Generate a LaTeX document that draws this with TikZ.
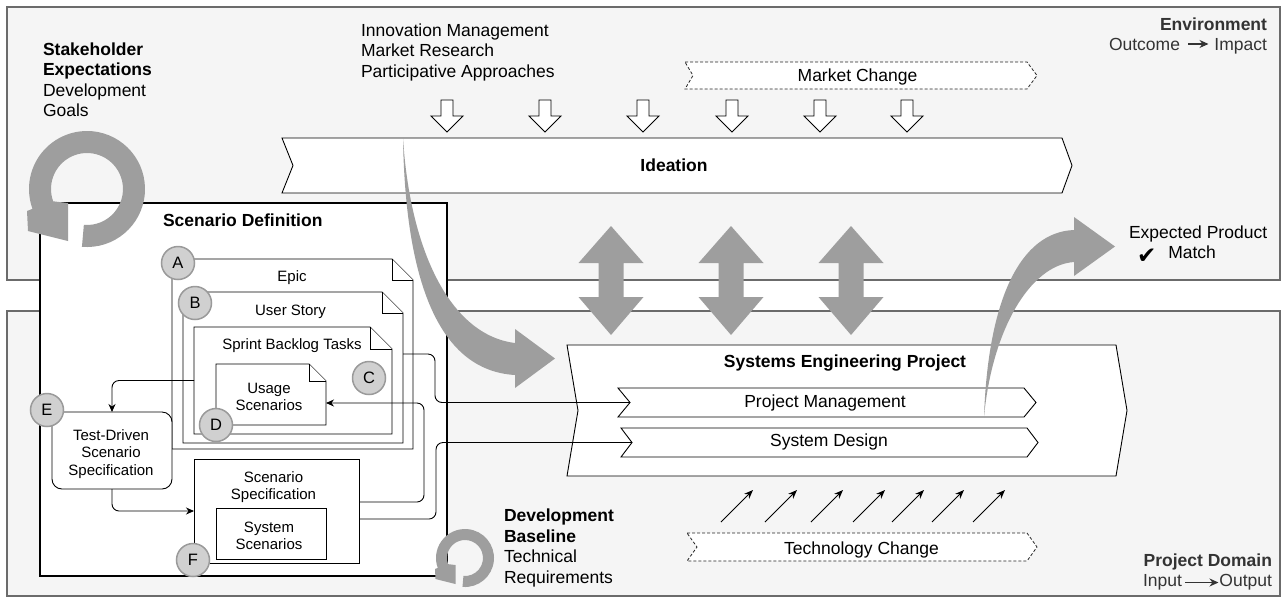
\documentclass[tikz,border=0pt]{standalone}
\usepackage{fontspec}
\setmainfont{Liberation Sans}
\newfontfamily\symbolfont{DejaVu Sans}
\usetikzlibrary{arrows.meta,calc}
\definecolor{panelfill}{HTML}{F5F5F5}
\definecolor{panelline}{HTML}{6B6B6B}
\definecolor{biggray}{HTML}{9E9E9E}
\definecolor{circfill}{HTML}{D0D0D0}
\definecolor{circline}{HTML}{9A9A9A}
\definecolor{labelgray}{HTML}{333333}
\newcommand\docoutline[2]{%
  \filldraw[box] (#1.north west) -- ($(#1.north east)+(-#2,0)$) -- ($(#1.north east)+(0,#2)$) -- (#1.south east) -- (#1.south west) -- cycle;
  \draw[box] ($(#1.north east)+(-#2,0)$) -- ++(0,#2) -- ++(#2,0);}
\newcommand\cyclearrow[3]{%
  \begin{scope}[shift={(#1,#2)},scale=#3]
  \fill[biggray] (95:58) arc[start angle=95, end angle=-200, radius=58] -- (-60,22) -- (-59,42) -- (-19,52) -- (-19,14) -- (-200:36) arc[start angle=-200, end angle=95, radius=36] -- cycle;
  \end{scope}}
\begin{document}
\begin{tikzpicture}[x=1pt, y=-1pt,
  every node/.style={inner sep=0pt, outer sep=0pt},
  txt/.style={font=\fontsize{17.5}{20.6}\selectfont},
  txtb/.style={font=\fontsize{17.5}{20.6}\selectfont\bfseries},
  txts/.style={font=\fontsize{15}{17.2}\selectfont},
  panel/.style={draw=panelline, fill=panelfill, line width=2.5pt},
  box/.style={draw=black, line width=0.9pt, fill=white},
  dashchev/.style={draw=black!85, line width=0.8pt, dash pattern=on 3pt off 2pt, fill=white},
  holder/.style={draw=none, fill=none},
  circ/.style={circle, minimum size=33pt, fill=circfill, draw=circline, line width=1.5pt, font=\fontsize{16.5}{18}\selectfont},
  conn/.style={draw=black, line width=0.9pt, rounded corners=7pt},
  connarrow/.style={-{Stealth[length=8pt, width=7pt]}},
  smallarrow/.style={line width=1.1pt, -{Stealth[length=9pt, width=8pt]}}
]
\useasboundingbox (0,0) rectangle (1282,598);
\fill[white] (0,0) rectangle (1282,598);
% panels
\node[panel, minimum width=1273pt, minimum height=273pt] (env) at (643.5,143.5) {};
\node[panel, minimum width=1273pt, minimum height=285pt] (dom) at (643.5,453.5) {};
% panel texts (multi-line nodes: base = baseline of last line)
\node[txt, anchor=base west, align=left] (stake) at (43,116.8) {\textbf{Stakeholder}\\\textbf{Expectations}\\Development\\Goals};
\node[txt, anchor=base west, align=left] (innov) at (361,77.2) {Innovation Management\\Market Research\\Participative Approaches};
\node[txtb, anchor=base east, text=labelgray] (envname) at (1267,30) {Environment};
\node[txt, anchor=base east, text=labelgray] (impact) at (1267,50) {Impact};
\node[txt, anchor=base east, text=labelgray] (outcome) at (1180,50) {Outcome};
\draw[smallarrow, labelgray] ($(outcome.east)+(8,0)$) -- ($(outcome.east -| impact.west)+(-6,0)$);
\node[txtb, anchor=base east, text=labelgray] (domname) at (1272,566.7) {Project Domain};
\node[txt, anchor=base east, text=labelgray] (output) at (1272,586.7) {Output};
\node[txt, anchor=base east, text=labelgray] (input) at (1182,586.7) {Input};
\draw[smallarrow, labelgray] ($(input.east)+(3,0)$) -- ($(input.east -| output.west)+(-1,0)$);
\node[txt, anchor=base west, align=left] (devbase) at (504,583.5) {\textbf{Development}\\\textbf{Baseline}\\Technical\\Requirements};
% market change
\draw[dashchev] (685,62) -- (1027,62) -- (1037,75.5) -- (1027,89) -- (685,89) -- (693,75.5) -- cycle;
\node[txt, anchor=base] (mchange) at (857.5,81) {Market Change};
\foreach \c in {447,545,643,732,820,907}
  \draw[box] ({\c-6},100) -- ({\c+6},100) -- ({\c+6},116) -- ({\c+16},116) -- (\c,132) -- ({\c-16},116) -- ({\c-6},116) -- cycle;
% ideation
\draw[box] (282,138) -- (1062,138) -- (1072,165.5) -- (1062,193) -- (282,193) -- (293,165.5) -- cycle;
\node[txtb, anchor=base] (ideation) at (674,171.7) {Ideation};
% scenario definition
\node[draw=black, line width=2pt, fill=white, minimum width=407pt, minimum height=373pt] (scendef) at (243.5,389.5) {};
\node[txtb, anchor=base west] (scendeflabel) at (163,226.7) {Scenario Definition};
\node[holder, minimum width=241pt, minimum height=190pt] (epic) at (292.5,354) {};
\docoutline{epic}{21}
\node[txts, anchor=base] (epiclabel) at (292,281.7) {Epic};
\node[holder, minimum width=220pt, minimum height=151pt] (ustory) at (293,367.5) {};
\docoutline{ustory}{21}
\node[txts, anchor=base] (ustorylabel) at (290.5,315) {User Story};
\node[holder, minimum width=198pt, minimum height=107pt] (sbt) at (293,380.5) {};
\docoutline{sbt}{22}
\node[txts, anchor=base] (sbtlabel) at (292,349.3) {Sprint Backlog Tasks};
\node[holder, minimum width=110pt, minimum height=61pt] (usage) at (271,394.5) {};
\docoutline{usage}{17}
\node[txts, anchor=base, align=center] (usagelabel) at (269,410.3) {Usage\\Scenarios};
\node[box, rounded corners=10pt, minimum width=120pt, minimum height=77pt] (tdd) at (112,450.5) {};
\node[txts, anchor=base, align=center] (tddlabel) at (111,475) {Test-Driven\\Scenario\\Specification};
\node[box, minimum width=165pt, minimum height=104pt] (ss) at (276.5,511) {};
\node[txts, anchor=base, align=center] (sslabel) at (273.5,499.5) {Scenario\\Specification};
\node[box, minimum width=110pt, minimum height=51pt] (sysscen) at (271,533.5) {};
\node[txts, anchor=base, align=center] (sysscenlabel) at (269,549.4) {System\\Scenarios};
% systems engineering project
\draw[box] (567,345) -- (1116,345) -- (1127,410.5) -- (1116,476) -- (567,476) -- (578,410.5) -- cycle;
\node[txtb, anchor=base] (sep) at (845,367) {Systems Engineering Project};
\draw[box] (618,388) -- (1024,388) -- (1036,402.5) -- (1024,417) -- (618,417) -- (630,402.5) -- cycle;
\coordinate (pmin) at (630,402.5);
\node[txt, anchor=base] (pm) at (825,407.3) {Project Management};
\draw[box] (621,428) -- (1027,428) -- (1038,442.5) -- (1027,457) -- (621,457) -- (632,442.5) -- cycle;
\coordinate (sdin) at (632,442.5);
\node[txt, anchor=base] (sd) at (829,446.7) {System Design};
% connectors
\draw[conn, connarrow] (sbt.west) -| (tdd.north);
\draw[conn, connarrow] (tdd.south) |- (ss.west);
\draw[conn, connarrow] ($(ss.east)+(0,-9)$) -- ++(65,0) |- ($(usage.east)+(0,8.5)$);
\draw[conn] ($(ss.east)+(0,8)$) -- ++(77,0) |- (sdin);
\draw[conn] ($(ustory.east)+(0,-13.5)$) -- ++(32,0) |- (pmin);
% circles
\node[circ] (ca) at (178,263) {A};
\node[circ] (cb) at (195,303) {B};
\node[circ] (cc) at (369,378) {C};
\node[circ] (cd) at (216,425) {D};
\node[circ] (ce) at (47,410) {E};
\node[circ] (cf) at (193,560) {F};
% cycle arrows
\cyclearrow{87}{189}{1}
\cyclearrow{465}{558}{0.5}
% double arrows
\foreach \c in {611,731,851}
  \fill[biggray] (\c,226) -- ++(32.5,37) -- ++(-20,0) -- ++(0,34) -- ++(20,0) -- (\c,335) -- ++(-32.5,-38) -- ++(20,0) -- ++(0,-34) -- ++(-20,0) -- cycle;
% curved arrows
\fill[biggray] (403,138) .. controls (410,250) and (450,335) .. (515,343) -- (515,329) -- (555,358.5) -- (515,388) -- (515,375) .. controls (430,370) and (405,260) .. (403,138) -- cycle;
\fill[biggray] (984,417) .. controls (988,300) and (1020,232) .. (1074,230) -- (1074,217) -- (1115,246.5) -- (1074,276) -- (1074,262) .. controls (1030,265) and (992,330) .. (984,417) -- cycle;
% technology change
\draw[dashchev] (687,533) -- (1027,533) -- (1037,547) -- (1027,561) -- (687,561) -- (697,547) -- cycle;
\node[txt, anchor=base] (tchange) at (861.5,554) {Technology Change};
\foreach \x in {721,765,811,853,892,932,973}
  \draw[line width=0.9pt, -{Stealth[length=9pt, width=7pt]}] (\x,522) -- ({\x+32},490);
% expected product
\node[txt, anchor=base west, align=left] (expected) at (1129,258.8) {Expected Product\\\hspace*{8pt}\raisebox{-5pt}{\symbolfont\fontsize{23}{20.6}\selectfont ✔}\hspace{12pt}Match};
\end{tikzpicture}
\end{document}
